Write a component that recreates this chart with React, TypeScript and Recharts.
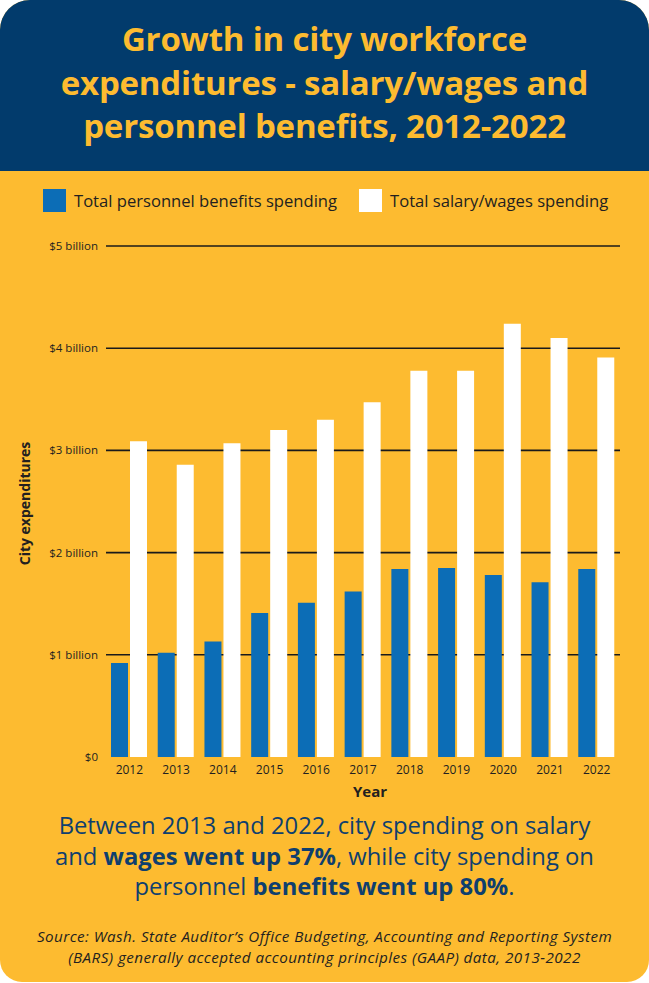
import React from 'react';
import { BarChart, Bar, XAxis, YAxis, CartesianGrid, Legend } from 'recharts';

const years = ['2012', '2013', '2014', '2015', '2016', '2017', '2018', '2019', '2020', '2021', '2022'];
const benefits = [0.92, 1.02, 1.13, 1.41, 1.51, 1.62, 1.84, 1.85, 1.78, 1.71, 1.84];
const salaries = [3.09, 2.86, 3.07, 3.2, 3.3, 3.47, 3.78, 3.78, 4.24, 4.1, 3.91];
const yTicks = [0, 1, 2, 3, 4, 5];
const yTickLabels = ['$0', '$1 billion', '$2 billion', '$3 billion', '$4 billion', '$5 billion'];
const gridValues = [1, 2, 3, 4, 5];
const seriesNames = ['Total personnel benefits spending', 'Total salary/wages spending'];

const NAVY = '#023b6c';
const YELLOW = '#fdbb30';
const BLUE = '#0c6db6';
const DARK = '#231f20';

const data = years.map((y, i) => ({ year: y, benefits: benefits[i], salaries: salaries[i] }));

const FONT = '"Open Sans", sans-serif';

const renderLegend = (props: any) => {
  const { payload } = props;
  return (
    <div style={{ display: 'flex', alignItems: 'center', paddingLeft: 43, fontFamily: FONT, fontSize: 16.6, color: DARK }}>
      {payload.map((entry: any, i: number) => (
        <div key={i} style={{ display: 'flex', alignItems: 'center', marginRight: 22 }}>
          <div style={{ width: 23, height: 23, background: entry.color, marginRight: 8 }} />
          <span>{entry.value}</span>
        </div>
      ))}
    </div>
  );
};

const YLabel = (props: any) => {
  const { viewBox } = props;
  const cy = viewBox.y + viewBox.height / 2 + 2;
  const cx = 24;
  return (
    <text x={cx} y={cy} transform={`rotate(-90 ${cx} ${cy})`} textAnchor="middle" dominantBaseline="central"
      fontFamily={FONT} fontWeight={700} fontSize={14} fill={DARK}>
      City expenditures
    </text>
  );
};

const XLabel = (props: any) => {
  const { viewBox } = props;
  const cx = viewBox.x + viewBox.width / 2 + 7;
  return (
    <text x={cx} y={viewBox.y + 40} textAnchor="middle" fontFamily={FONT} fontWeight={700} fontSize={15} fill={DARK}>
      Year
    </text>
  );
};

export default function App() {
  return (
    <div style={{ position: 'absolute', left: 0, top: 0, width: 649, height: 983, background: '#fff' }}>
      <div style={{ position: 'absolute', left: 0, top: 0, width: 649, height: 982, background: YELLOW, borderRadius: '30px 30px 22px 22px', overflow: 'hidden' }}>
        <div style={{ position: 'absolute', left: 0, top: 0, width: 649, height: 171, background: NAVY }} />
        <div style={{ position: 'absolute', left: 0, top: 17, width: 649, textAlign: 'center', color: YELLOW, fontFamily: FONT, fontWeight: 700, fontSize: 33, lineHeight: '43.5px', letterSpacing: -0.2 }}>
          Growth in city workforce<br />expenditures - salary/wages and<br />personnel benefits, 2012-2022
        </div>
        <div style={{ position: 'absolute', left: 0, top: 171 }}>
          <BarChart width={649} height={629} data={data} margin={{ top: 75, right: 29, bottom: 0, left: 0 }} barGap={2} barSize={17}>
            <CartesianGrid vertical={false} horizontalValues={gridValues} stroke="#1a1a1a" strokeWidth={1.6} />
            <XAxis dataKey="year" axisLine={false} tickLine={false} tickSize={0} tickMargin={8} height={43}
              tick={{ fontFamily: FONT, fontSize: 12, fill: DARK }} interval={0} label={<XLabel />} />
            <YAxis width={106} domain={[0, 5]} ticks={yTicks} axisLine={false} tickLine={false} tickSize={0} tickMargin={8}
              tickFormatter={(v: number) => yTickLabels[yTicks.indexOf(v)]}
              tick={{ fontFamily: FONT, fontSize: 11.5, fill: DARK }} label={<YLabel />} />
            <Legend verticalAlign="middle" align="center" content={renderLegend} wrapperStyle={{ top: 18, left: 0, width: 649, height: 23 }} />
            <Bar dataKey="benefits" name={seriesNames[0]} fill={BLUE} isAnimationActive={false} />
            <Bar dataKey="salaries" name={seriesNames[1]} fill="#ffffff" isAnimationActive={false} />
          </BarChart>
        </div>
        <div style={{ position: 'absolute', left: 0, top: 810, width: 649, textAlign: 'center', color: '#0f3f6e', fontFamily: FONT, fontSize: 23.8, lineHeight: '30.5px' }}>
          Between 2013 and 2022, city spending on salary<br />
          and <b>wages went up 37%</b>, while city spending on<br />
          personnel <b>benefits went up 80%</b>.
        </div>
        <div style={{ position: 'absolute', left: 0, top: 926, width: 649, textAlign: 'center', color: DARK, fontFamily: FONT, fontStyle: 'italic', fontSize: 15.2, lineHeight: '21px', letterSpacing: 0.45 }}>
          Source: Wash. State Auditor’s Office Budgeting, Accounting and Reporting System<br />
          (BARS) generally accepted accounting principles (GAAP) data, 2013-2022
        </div>
      </div>
    </div>
  );
}
